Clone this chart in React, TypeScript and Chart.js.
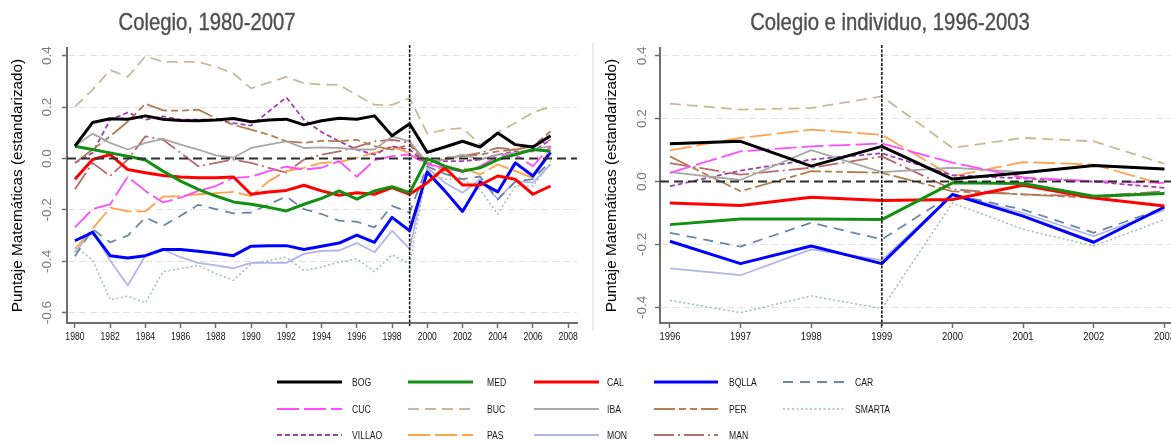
import React, { useEffect, useRef } from 'react';
import { Chart, registerables } from 'chart.js';

Chart.register(...registerables);

// ---------------- DATA ----------------
const SERIES_NAMES = ['BOG', 'MED', 'CAL', 'BQLLA', 'CAR', 'CUC', 'BUC', 'IBA', 'PER', 'SMARTA', 'VILLAO', 'PAS', 'MON', 'MAN'];

const YEARS_LEFT = [1980, 1981, 1982, 1983, 1984, 1985, 1986, 1987, 1988, 1989, 1990, 1991, 1992, 1993, 1994, 1995, 1996, 1997, 1998, 1999, 2000, 2001, 2002, 2003, 2004, 2005, 2006, 2007];
const YEARS_RIGHT = [1996, 1997, 1998, 1999, 2000, 2001, 2002, 2003];
const REFORM_YEAR = 1999;

const TITLE_LEFT = 'Colegio, 1980-2007';
const TITLE_RIGHT = 'Colegio e individuo, 1996-2003';
const Y_TITLE = 'Puntaje Matemáticas (estandarizado)';

// Left panel (Colegio, 1980-2007)
const BOG_LEFT = [0.048, 0.14, 0.155, 0.153, 0.166, 0.153, 0.148, 0.147, 0.15, 0.156, 0.143, 0.15, 0.153, 0.131, 0.147, 0.157, 0.153, 0.166, 0.089, 0.135, 0.024, 0.045, 0.067, 0.045, 0.099, 0.054, 0.045, 0.089];
const MED_LEFT = [0.048, 0.035, 0.022, 0.009, -0.006, -0.049, -0.088, -0.12, -0.146, -0.169, -0.178, -0.19, -0.204, -0.178, -0.155, -0.126, -0.158, -0.126, -0.11, -0.133, 0.0, -0.03, -0.049, -0.036, -0.004, 0.015, 0.035, 0.028];
const CAL_LEFT = [-0.081, -0.004, 0.015, -0.043, -0.055, -0.066, -0.072, -0.075, -0.075, -0.072, -0.139, -0.13, -0.124, -0.104, -0.126, -0.143, -0.133, -0.139, -0.113, -0.139, -0.094, -0.036, -0.103, -0.103, -0.068, -0.081, -0.139, -0.107];
const BQLLA_LEFT = [-0.32, -0.287, -0.378, -0.387, -0.378, -0.354, -0.354, -0.361, -0.369, -0.378, -0.341, -0.339, -0.339, -0.354, -0.341, -0.329, -0.298, -0.326, -0.229, -0.281, -0.053, -0.126, -0.206, -0.092, -0.13, -0.017, -0.068, 0.024];
const CAR_LEFT = [-0.38, -0.274, -0.326, -0.3, -0.229, -0.262, -0.223, -0.18, -0.197, -0.213, -0.21, -0.178, -0.148, -0.197, -0.216, -0.242, -0.246, -0.268, -0.184, -0.21, -0.03, -0.06, -0.08, -0.07, -0.16, -0.09, -0.08, -0.01];
const CUC_LEFT = [-0.268, -0.197, -0.178, -0.071, -0.126, -0.171, -0.152, -0.126, -0.107, -0.075, -0.071, -0.049, -0.032, -0.043, -0.036, -0.01, -0.071, -0.006, 0.009, 0.015, -0.023, -0.036, -0.053, -0.03, 0.009, 0.015, -0.03, 0.048];
const BUC_LEFT = [0.202, 0.267, 0.344, 0.318, 0.398, 0.376, 0.376, 0.376, 0.357, 0.331, 0.273, 0.295, 0.318, 0.293, 0.288, 0.286, 0.247, 0.209, 0.209, 0.235, 0.097, 0.112, 0.119, 0.054, 0.102, 0.138, 0.179, 0.202];
const IBA_LEFT = [0.048, 0.097, 0.061, 0.035, 0.061, 0.076, 0.054, 0.035, 0.012, 0.003, 0.041, 0.054, 0.067, 0.041, 0.043, 0.041, 0.035, 0.035, 0.086, 0.067, -0.017, -0.004, 0.015, -0.004, 0.015, 0.022, 0.035, 0.048];
const PER_LEFT = [-0.017, 0.035, 0.086, 0.144, 0.213, 0.187, 0.186, 0.19, 0.157, 0.131, 0.112, 0.093, 0.067, 0.061, 0.069, 0.067, 0.073, 0.048, 0.035, 0.054, -0.023, 0.003, 0.009, 0.015, 0.028, 0.035, 0.048, 0.106];
const SMARTA_LEFT = [-0.344, -0.394, -0.55, -0.535, -0.562, -0.44, -0.429, -0.416, -0.448, -0.474, -0.41, -0.397, -0.384, -0.436, -0.423, -0.403, -0.39, -0.44, -0.375, -0.41, -0.043, -0.081, -0.081, -0.12, -0.216, -0.107, -0.107, -0.017];
const VILLAO_LEFT = [-0.017, 0.022, 0.151, 0.179, 0.151, 0.164, 0.151, 0.151, 0.151, 0.138, 0.128, 0.183, 0.238, 0.151, 0.103, 0.067, 0.035, 0.015, 0.048, 0.035, -0.023, -0.01, -0.01, -0.004, 0.015, 0.028, 0.028, 0.073];
const PAS_LEFT = [-0.352, -0.274, -0.191, -0.206, -0.206, -0.148, -0.146, -0.139, -0.135, -0.13, -0.146, -0.088, -0.049, -0.036, -0.017, -0.014, 0.003, 0.022, 0.045, 0.022, -0.017, -0.049, -0.036, -0.062, -0.023, -0.049, -0.075, 0.041];
const MON_LEFT = [-0.365, -0.281, -0.397, -0.494, -0.378, -0.354, -0.384, -0.406, -0.416, -0.427, -0.406, -0.406, -0.406, -0.371, -0.359, -0.358, -0.329, -0.365, -0.281, -0.352, -0.036, -0.094, -0.133, -0.081, -0.158, -0.088, -0.094, -0.023];
const MAN_LEFT = [-0.12, -0.017, -0.068, -0.004, 0.086, 0.073, 0.022, -0.03, -0.017, -0.004, -0.017, -0.036, -0.055, -0.004, 0.015, 0.028, 0.045, 0.067, 0.073, 0.061, -0.017, -0.004, 0.009, 0.022, 0.041, 0.035, 0.048, 0.073];

// Right panel (Colegio e individuo, 1996-2003)
const BOG_RIGHT = [0.12, 0.128, 0.049, 0.112, 0.008, 0.028, 0.051, 0.04];
const MED_RIGHT = [-0.137, -0.119, -0.119, -0.121, -0.004, -0.006, -0.047, -0.038];
const CAL_RIGHT = [-0.068, -0.076, -0.05, -0.06, -0.057, -0.012, -0.052, -0.078];
const BQLLA_RIGHT = [-0.19, -0.261, -0.205, -0.261, -0.041, -0.11, -0.193, -0.081];
const CAR_RIGHT = [-0.163, -0.207, -0.131, -0.184, -0.041, -0.089, -0.163, -0.084];
const CUC_RIGHT = [0.028, 0.096, 0.112, 0.121, 0.06, 0.013, 0.001, -0.004];
const BUC_RIGHT = [0.248, 0.229, 0.234, 0.271, 0.107, 0.139, 0.128, 0.057];
const IBA_RIGHT = [0.03, 0.005, 0.1, 0.03, 0.044, 0.03, 0.05, 0.04];
const PER_RIGHT = [0.08, -0.031, 0.033, 0.028, -0.031, -0.041, -0.052, -0.036];
const SMARTA_RIGHT = [-0.378, -0.417, -0.364, -0.404, -0.068, -0.152, -0.205, -0.121];
const VILLAO_RIGHT = [-0.015, 0.035, 0.07, 0.09, 0.02, 0.01, 0.0, -0.02];
const PAS_RIGHT = [0.099, 0.139, 0.165, 0.149, 0.017, 0.062, 0.054, -0.01];
const MON_RIGHT = [-0.276, -0.298, -0.216, -0.25, -0.04, -0.1, -0.174, -0.09];
const MAN_RIGHT = [0.059, 0.022, 0.044, 0.08, -0.025, -0.041, -0.047, -0.031];

const LEFT_VALUES = [BOG_LEFT, MED_LEFT, CAL_LEFT, BQLLA_LEFT, CAR_LEFT, CUC_LEFT, BUC_LEFT, IBA_LEFT, PER_LEFT, SMARTA_LEFT, VILLAO_LEFT, PAS_LEFT, MON_LEFT, MAN_LEFT];
const RIGHT_VALUES = [BOG_RIGHT, MED_RIGHT, CAL_RIGHT, BQLLA_RIGHT, CAR_RIGHT, CUC_RIGHT, BUC_RIGHT, IBA_RIGHT, PER_RIGHT, SMARTA_RIGHT, VILLAO_RIGHT, PAS_RIGHT, MON_RIGHT, MAN_RIGHT];

// ---------------- STYLES ----------------
type LineStyle = { color: string; width: number; dash: number[] };
const STYLES: Record<string, LineStyle> = {
  BOG: { color: '#000000', width: 3, dash: [] },
  MED: { color: '#138f13', width: 3, dash: [] },
  CAL: { color: '#ff0000', width: 3, dash: [] },
  BQLLA: { color: '#0000ff', width: 3, dash: [] },
  CAR: { color: '#6a88a8', width: 1.8, dash: [10, 7] },
  CUC: { color: '#ff4dff', width: 1.8, dash: [22, 5] },
  BUC: { color: '#c9b997', width: 1.8, dash: [11, 6] },
  IBA: { color: '#a8a8a8', width: 1.8, dash: [] },
  PER: { color: '#b08050', width: 1.8, dash: [21, 4, 7, 4, 7, 4] },
  SMARTA: { color: '#9dbdb0', width: 1.5, dash: [2, 2.5] },
  VILLAO: { color: '#a040b0', width: 1.8, dash: [5, 3] },
  PAS: { color: '#ffa24a', width: 1.8, dash: [22, 5] },
  MON: { color: '#b4b4ec', width: 1.8, dash: [] },
  MAN: { color: '#b86c6c', width: 1.8, dash: [20, 4, 2, 4] },
};

const SANS = "'Liberation Sans', Arial, sans-serif";
const CONDENSE = 0.82;

type PanelCfg = {
  left: number;
  width: number;
  height: number;
  axisWidth: number;
  padRight: number;
  padTop: number;
  xAxisHeight: number;
  years: number[];
  values: number[][];
  xMin: number;
  xMax: number;
  xStep: number;
  yMin: number;
  yMax: number;
  tickGap: number;
  xFont: number;
};

function Panel({ cfg }: { cfg: PanelCfg }) {
  const ref = useRef<HTMLCanvasElement | null>(null);
  useEffect(() => {
    const canvas = ref.current;
    if (!canvas) return;
    const overlay = {
      id: 'overlay',
      afterDatasetsDraw(chart: any) {
        const { ctx, chartArea, scales } = chart;
        const x = scales.x;
        const y = scales.y;
        ctx.save();
        const y0 = y.getPixelForValue(0);
        ctx.strokeStyle = '#2e2e2e';
        ctx.lineWidth = 2;
        ctx.setLineDash([9, 5]);
        ctx.beginPath();
        ctx.moveTo(chartArea.left, y0);
        ctx.lineTo(chartArea.right, y0);
        ctx.stroke();
        const xv = x.getPixelForValue(REFORM_YEAR);
        ctx.strokeStyle = '#1a1a1a';
        ctx.lineWidth = 1.6;
        ctx.setLineDash([3, 1.5]);
        ctx.beginPath();
        ctx.moveTo(xv, chartArea.top - 3);
        ctx.lineTo(xv, chartArea.bottom + 3);
        ctx.stroke();
        ctx.restore();
      },
      afterDraw(chart: any) {
        const { ctx, scales, chartArea } = chart;
        const y = scales.y;
        const x = scales.x;
        ctx.save();
        ctx.font = `13.5px ${SANS}`;
        ctx.fillStyle = '#7c7c7c';
        ctx.textAlign = 'center';
        ctx.textBaseline = 'middle';
        for (const t of y.ticks) {
          const py = y.getPixelForValue(t.value);
          ctx.save();
          ctx.translate(y.right - cfg.tickGap, py);
          ctx.rotate(-Math.PI / 2);
          ctx.fillText((Math.abs(t.value) < 1e-9 ? 0 : t.value).toFixed(1), 0, 0);
          ctx.restore();
        }
        ctx.font = `${cfg.xFont}px ${SANS}`;
        ctx.fillStyle = '#111111';
        for (const t of x.ticks) {
          const px = x.getPixelForValue(t.value);
          ctx.save();
          ctx.translate(px, chartArea.bottom + 14);
          ctx.scale(CONDENSE, 1);
          ctx.fillText(String(t.value), 0, 0);
          ctx.restore();
        }
        ctx.restore();
      },
    };
    const chart = new Chart(canvas, {
      type: 'line',
      data: {
        datasets: SERIES_NAMES.map((name, i) => ({
          label: name,
          data: cfg.years.map((yr, j) => ({ x: yr, y: cfg.values[i][j] })),
          borderColor: STYLES[name].color,
          backgroundColor: STYLES[name].color,
          borderWidth: STYLES[name].width,
          borderDash: STYLES[name].dash,
          borderJoinStyle: 'round',
          pointRadius: 0,
          pointHoverRadius: 0,
          fill: false,
          tension: 0,
        })),
      },
      options: {
        animation: false,
        responsive: false,
        maintainAspectRatio: false,
        events: [],
        layout: { padding: { left: 0, right: cfg.padRight, top: cfg.padTop, bottom: 0 } },
        plugins: {
          legend: { display: false },
          tooltip: { enabled: false },
          title: { display: false },
        },
        scales: {
          x: {
            type: 'linear',
            min: cfg.xMin,
            max: cfg.xMax,
            afterFit: (s: any) => {
              s.height = cfg.xAxisHeight;
            },
            ticks: {
              stepSize: cfg.xStep,
              includeBounds: false,
              autoSkip: false,
              maxRotation: 0,
              minRotation: 0,
              display: false,
            },
            grid: { drawOnChartArea: false, drawTicks: true, tickLength: 5, tickColor: '#6e6e6e', tickWidth: 1.5 },
            border: { display: true, color: '#6e6e6e', width: 2 },
          },
          y: {
            type: 'linear',
            min: cfg.yMin,
            max: cfg.yMax,
            afterFit: (s: any) => {
              s.width = cfg.axisWidth;
            },
            ticks: { stepSize: 0.2, includeBounds: false, display: false },
            grid: {
              color: (c: any) => (c.tick && Math.abs(c.tick.value) < 1e-9 ? 'rgba(0,0,0,0)' : '#e2e2e2'),
              lineWidth: 1,
              drawTicks: true,
              tickLength: 5,
              tickColor: '#6e6e6e',
              tickWidth: 1.5,
            },
            border: { display: true, color: '#6e6e6e', width: 2, dash: [7, 4] },
            title: {
              display: true,
              text: Y_TITLE,
              color: '#000000',
              font: { family: SANS, size: 15.3 },
              padding: { top: 9, bottom: 0 },
            },
          },
        },
      } as any,
      plugins: [overlay],
    } as any);
    return () => chart.destroy();
  }, []);
  return (
    <canvas
      ref={ref}
      width={cfg.width}
      height={cfg.height}
      style={{ position: 'absolute', left: cfg.left, top: 0, width: cfg.width, height: cfg.height }}
    />
  );
}

const LEFT_CFG: PanelCfg = {
  left: 0,
  width: 592,
  height: 362,
  axisWidth: 67,
  padRight: 15,
  padTop: 48,
  xAxisHeight: 39,
  years: YEARS_LEFT,
  values: LEFT_VALUES,
  xMin: 1979.55,
  xMax: 2008.5,
  xStep: 2,
  yMin: -0.64,
  yMax: 0.43,
  tickGap: 20,
  xFont: 10.5,
};

const RIGHT_CFG: PanelCfg = {
  left: 594,
  width: 600,
  height: 362,
  axisWidth: 66,
  padRight: 19,
  padTop: 48,
  xAxisHeight: 39,
  years: YEARS_RIGHT,
  values: RIGHT_VALUES,
  xMin: 1995.86,
  xMax: 2003.15,
  xStep: 1,
  yMin: -0.45,
  yMax: 0.425,
  tickGap: 18,
  xFont: 11.5,
};

// legend layout (5 columns x 3 rows, row-major in series order)
const LEGEND_COLS = [
  { x1: 277, x2: 342, lx: 352 },
  { x1: 408, x2: 473, lx: 487 },
  { x1: 534, x2: 599, lx: 607 },
  { x1: 654, x2: 718, lx: 729 },
  { x1: 783, x2: 845, lx: 855 },
];
const LEGEND_ROWS = [382, 409, 435];

function Legend() {
  return (
    <svg width={1171} height={442} style={{ position: 'absolute', left: 0, top: 0 }}>
      {SERIES_NAMES.map((name, i) => {
        const col = LEGEND_COLS[i % 5];
        const y = LEGEND_ROWS[Math.floor(i / 5)];
        const st = STYLES[name];
        return (
          <g key={name}>
            <line
              x1={col.x1}
              x2={col.x2}
              y1={y}
              y2={y}
              stroke={st.color}
              strokeWidth={st.width}
              strokeDasharray={st.dash.length ? st.dash.join(' ') : undefined}
            />
            <text
              transform={`translate(${col.lx},${y + 4}) scale(${CONDENSE},1)`}
              fontFamily={SANS}
              fontSize={10.5}
              fill="#1a1a1a"
            >
              {name}
            </text>
          </g>
        );
      })}
    </svg>
  );
}

const titleStyle = (center: number): React.CSSProperties => ({
  position: 'absolute',
  left: center - 300,
  top: 10,
  width: 600,
  textAlign: 'center',
  fontFamily: SANS,
  fontSize: 24,
  lineHeight: '24px',
  color: '#505050',
  whiteSpace: 'nowrap',
  transform: 'scaleX(0.845)',
  transformOrigin: '50% 50%',
  WebkitTextStroke: '0.4px #505050',
});

export default function App() {
  return (
    <div
      style={{
        position: 'fixed',
        left: 0,
        top: 0,
        width: 1171,
        height: 442,
        overflow: 'hidden',
        background: '#ffffff',
      }}
    >
      <Panel cfg={LEFT_CFG} />
      <Panel cfg={RIGHT_CFG} />
      <div style={{ position: 'absolute', left: 592, top: 43, width: 2, height: 288, background: '#e6ecef' }} />
      <div style={titleStyle(206.5)}>{TITLE_LEFT}</div>
      <div style={titleStyle(889.5)}>{TITLE_RIGHT}</div>
      <Legend />
    </div>
  );
}
